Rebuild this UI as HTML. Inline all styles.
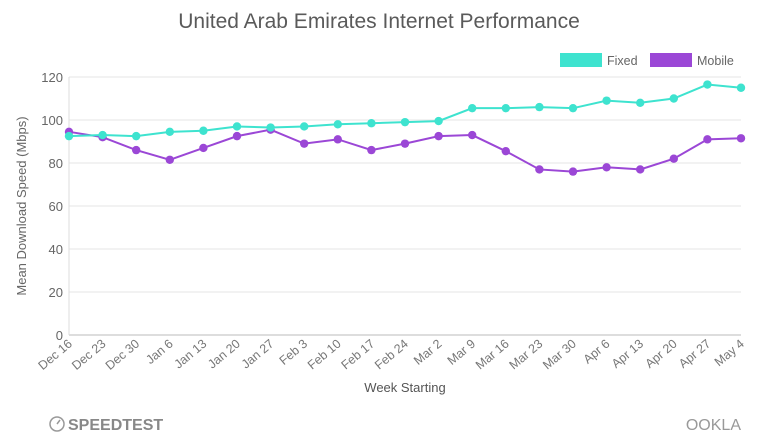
<!DOCTYPE html>
<html><head><meta charset="utf-8">
<style>
body{margin:0;background:#fff;font-family:"Liberation Sans",sans-serif;}
svg text{font-family:"Liberation Sans",sans-serif;}
</style></head>
<body>
<svg id="chart" width="757" height="439" viewBox="0 0 757 439">
<text x="379" y="28" text-anchor="middle" font-size="21" fill="#5a5a5a">United Arab Emirates Internet Performance</text>
<g>
<rect x="560" y="53" width="42" height="14" fill="#3ee3cf"/>
<text x="607" y="65" font-size="12.5" fill="#666">Fixed</text>
<rect x="650" y="53" width="42" height="14" fill="#9b47d6"/>
<text x="697" y="65" font-size="12.5" fill="#666">Mobile</text>
</g>
<g id="grid"></g><g id="axes"></g><g id="series"></g>
<text transform="translate(26,206) rotate(-90)" text-anchor="middle" font-size="13" fill="#666">Mean Download Speed (Mbps)</text>
<text x="405" y="392" text-anchor="middle" font-size="13" fill="#555">Week Starting</text>
<g>
<circle cx="57" cy="424" r="7" fill="none" stroke="#999" stroke-width="1.5"/>
<line x1="57" y1="424" x2="60" y2="420" stroke="#999" stroke-width="1.5"/>
<text x="68" y="430" font-size="16" fill="#888" font-weight="bold">SPEEDTEST</text>
</g>
<text x="741" y="430" text-anchor="end" font-size="16" fill="#999">OOKLA</text>
</svg>
<script>
const categories=["Dec 16","Dec 23","Dec 30","Jan 6","Jan 13","Jan 20","Jan 27","Feb 3","Feb 10","Feb 17","Feb 24","Mar 2","Mar 9","Mar 16","Mar 23","Mar 30","Apr 6","Apr 13","Apr 20","Apr 27","May 4"];
const fixedValues=[92.5,93,92.5,94.5,95,97,96.5,97,98,98.5,99,99.5,105.5,105.5,106,105.5,109,108,110,116.5,115];
const mobileValues=[94.5,92,86,81.5,87,92.5,95.5,89,91,86,89,92.5,93,85.5,77,76,78,77,82,91,91.5];
const yTicks=[0,20,40,60,80,100,120];
const NS="http://www.w3.org/2000/svg";
const x0=69,x1=741,y0=335,y1=77,yMax=120;
const xs=i=>x0+(x1-x0)*i/(categories.length-1);
const ys=v=>y0-(y0-y1)*v/yMax;
function mk(t,a,p){const e=document.createElementNS(NS,t);for(const k in a)e.setAttribute(k,a[k]);p.appendChild(e);return e;}
const grid=document.getElementById('grid'),axes=document.getElementById('axes'),ser=document.getElementById('series');
yTicks.forEach(v=>{
  const l=mk('line',{x1:x0,x2:x1,y1:ys(v),y2:ys(v),stroke:v===0?'#bbb':'#e6e6e6','stroke-width':1},grid);
  
  
  const t=mk('text',{x:x0-6,y:ys(v)+5,'text-anchor':'end','font-size':13,fill:'#666'},axes);
  t.textContent=v;
  
  
});
const ax=mk('line',{x1:x0,x2:x0,y1:y1,y2:y0,stroke:'#ddd'},axes);


categories.forEach((c,i)=>{
  const t=mk('text',{transform:`translate(${xs(i)+4},${y0+10}) rotate(-40)`,'text-anchor':'end','font-size':12.5,fill:'#777'},axes);
  t.textContent=c;
  
  
});
function draw(vals,color,name){
  const p=mk('polyline',{points:vals.map((v,i)=>xs(i)+','+ys(v)).join(' '),fill:'none',stroke:color,'stroke-width':2},ser);
  
  
  vals.forEach((v,i)=>{
    const c=mk('circle',{cx:xs(i),cy:ys(v),r:4.2,fill:color},ser);
    
    
  });
}
draw(mobileValues,'#9b47d6','mobile');
draw(fixedValues,'#3ee3cf','fixed');
</script>
</body></html>
